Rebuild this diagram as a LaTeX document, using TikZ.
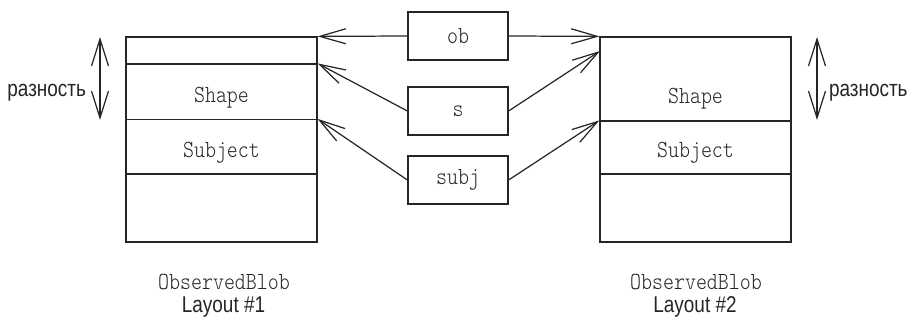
\documentclass[tikz,border=0pt]{standalone}
\usepackage{fontspec}
\newfontfamily\condsans[FakeStretch=0.83]{Liberation Sans}
\newfontfamily\thinmono[FakeStretch=0.85]{lmmonolt10-regular.otf}
\usetikzlibrary{arrows.meta, calc, positioning}

\begin{document}
\begin{tikzpicture}[x=0.02cm, y=-0.02cm, line width=0.7pt, black!85]

		\tikzstyle{cell}=[rectangle, draw, minimum width=3.82cm, inner sep=0pt]
		\tikzstyle{ptr}=[rectangle, draw, minimum width=2cm, minimum height=0.96cm, inner sep=0pt, font=\thinmono\fontsize{14}{16}\selectfont]
		\tikzstyle{mono}=[inner sep=0pt, anchor=base, font=\thinmono\fontsize{14}{16}\selectfont]
		\tikzstyle{cond}=[inner sep=0pt, anchor=base, font=\condsans\fontsize{13}{15}\selectfont]
		\tikzstyle{lnk}=[-{Straight Barb[length=5.2mm, width=3mm]}]
		\tikzstyle{dbl}=[{Straight Barb[length=5.4mm, width=3.4mm]}-{Straight Barb[length=5.4mm, width=3.4mm]}]

		\useasboundingbox (0,0) rectangle (912,320);

		%% layout 1
		\node (l0) at (221.5,50.5) [cell, minimum height=0.54cm] {};
		\node (l1) at (221.5,91.75) [cell, minimum height=1.11cm] {};
		\node (l2) at (221.5,146.75) [cell, minimum height=1.09cm] {};
		\node (l3) at (221.5,208) [cell, minimum height=1.36cm] {};

		\node (l1t) at (221.5,103) [mono] {Shape};
		\node (l2t) at (221.5,158) [mono] {Subject};

		%% layout 2
		\node (r1) at (695.5,79) [cell, minimum height=1.68cm] {};
		\node (r2) at (695.5,147.5) [cell, minimum height=1.06cm] {};
		\node (r3) at (695.5,208) [cell, minimum height=1.36cm] {};

		\node (r1t) at (695.5,104) [mono] {Shape};
		\node (r2t) at (695.5,158) [mono] {Subject};

		\coordinate (rs) at (600,51);

		%% pointers
		\node (pob) at (458,36) [ptr] {ob};
		\node (ps) at (458,111) [ptr] {s};
		\node (psubj) at (458,180) [ptr] {subj};

		\draw [lnk] (pob.west) -- (l0.north east);
		\draw [lnk] (pob.east) -- (r1.north west);

		\draw [lnk] (ps.west) -- (l1.north east);
		\draw [lnk] (ps.east) -- (rs);

		\draw [lnk] (psubj.west) -- (l2.north east);
		\draw [lnk] (psubj.east) -- (r2.north west);

		%% difference
		\coordinate (dl1) at (100,37);
		\coordinate (dl2) at (100,120);
		\coordinate (dr1) at (817,37);
		\coordinate (dr2) at (817,120);

		\draw [dbl] (dl1) -- (dl2);
		\draw [dbl] (dr1) -- (dr2);

		\node (dlt) at (46.7,96.7) [cond] {разность};
		\node (drt) at (868.3,96.7) [cond] {разность};

		%% captions
		\node (cap1) at (224,290) [mono] {ObservedBlob};
		\node (lay1) at (223.5,312.5) [cond] {Layout \#1};
		\node (cap2) at (696,290) [mono] {ObservedBlob};
		\node (lay2) at (695,312.5) [cond] {Layout \#2};

\end{tikzpicture}
\end{document}
